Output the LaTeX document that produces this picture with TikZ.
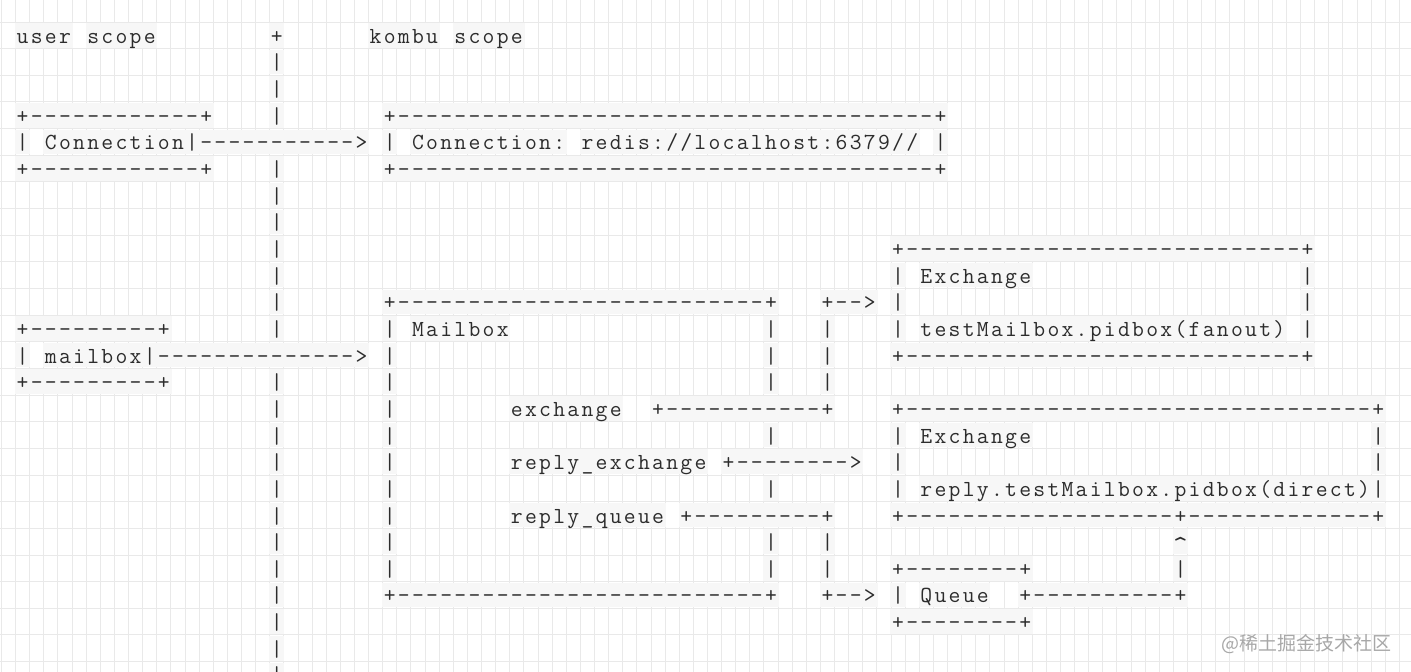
\documentclass[tikz,border=0pt]{standalone}
\usepackage{fontspec}
\newfontfamily\cjk{Noto Sans CJK SC}
\definecolor{gridc}{HTML}{E9E9E9}
\definecolor{cellbg}{HTML}{F7F7F7}
\definecolor{ink}{HTML}{2C2C2C}
\definecolor{wm}{HTML}{A8A8A8}
\newlength\cw \setlength\cw{14.12pt}
\ExplSyntaxOn
\cs_new:Npn \dsh #1 { \prg_replicate:nn {#1} {-} }
\ExplSyntaxOff
\newcommand\ascstop{}
\def\asc#1{\edef\asctmp{#1}\expandafter\ascloop\asctmp\ascstop}
\def\ascloop#1{\ifx#1\ascstop\let\ascnext\relax\else\ascchar#1\let\ascnext\ascloop\fi\ascnext}
\def\ascchar#1{\ifx#1@\kern\cw\else\rlap{\kern-0.6pt\textcolor{cellbg}{\rule[-4.3pt]{\dimexpr\cw+1.2pt\relax}{24.6pt}}}\hbox to\cw{\hss\ascglyph#1\hss}\fi}
\def\ascglyph#1{\ifx#1_\textunderscore\else\ifx#1^\raisebox{-5pt}{\scalebox{1.2}{\textasciicircum}}\else#1\fi\fi}
\tikzset{
  asc/.style={anchor=base west, inner sep=0pt, outer sep=0pt,
    font=\ttfamily\fontsize{23pt}{27pt}\selectfont, text=ink},
  gridline/.style={draw=gridc, line width=1pt}
}
\newcommand\seg[4]{\node[asc] (#1) at ({15.6+14.12*(#3)},{43.3+26.65*(#2)}) {\asc{#4}};}
\begin{document}
\begin{tikzpicture}[x=1pt,y=-1pt]
\useasboundingbox (0,0) rectangle (1411,672);
\fill[white] (0,0) rectangle (1411,672);
\foreach \k in {-1,...,98} \draw[gridline] ({15.6+14.12*\k},0) -- ({15.6+14.12*\k},672);
\foreach \k in {0,...,24} \draw[gridline] (0,{22+26.65*\k}) -- (1411,{22+26.65*\k});
% row 0
\seg{s0a}{0}{0}{user@scope}
\seg{s0b}{0}{18}{+}
\seg{s0c}{0}{25}{kombu@scope}
\seg{s1a}{1}{18}{|}
\seg{s2a}{2}{18}{|}
% connection
\seg{s3a}{3}{0}{+\dsh{12}+}
\seg{s3b}{3}{18}{|}
\seg{s3c}{3}{26}{+\dsh{38}+}
\seg{s4a}{4}{0}{|@Connection|\dsh{11}>@|@Connection:@redis://localhost:6379//@|}
\seg{s5a}{5}{0}{+\dsh{12}+}
\seg{s5b}{5}{18}{|}
\seg{s5c}{5}{26}{+\dsh{38}+}
\seg{s6a}{6}{18}{|}
\seg{s7a}{7}{18}{|}
% exchange fanout
\seg{s8a}{8}{18}{|}
\seg{s8b}{8}{62}{+\dsh{28}+}
\seg{s9a}{9}{18}{|}
\seg{s9b}{9}{62}{|@Exchange}
\seg{s9c}{9}{91}{|}
\seg{s10a}{10}{18}{|}
\seg{s10b}{10}{26}{+\dsh{26}+}
\seg{s10c}{10}{57}{+-->}
\seg{s10d}{10}{62}{|}
\seg{s10e}{10}{91}{|}
\seg{s11a}{11}{0}{+\dsh{9}+}
\seg{s11b}{11}{18}{|}
\seg{s11c}{11}{26}{|@Mailbox}
\seg{s11d}{11}{53}{|}
\seg{s11e}{11}{57}{|}
\seg{s11f}{11}{62}{|@testMailbox.pidbox(fanout)@|}
\seg{s12a}{12}{0}{|@mailbox|\dsh{14}>}
\seg{s12b}{12}{26}{|}
\seg{s12c}{12}{53}{|}
\seg{s12d}{12}{57}{|}
\seg{s12e}{12}{62}{+\dsh{28}+}
\seg{s13a}{13}{0}{+\dsh{9}+}
\seg{s13b}{13}{18}{|}
\seg{s13c}{13}{26}{|}
\seg{s13d}{13}{53}{|}
\seg{s13e}{13}{57}{|}
% exchange direct
\seg{s14a}{14}{18}{|}
\seg{s14b}{14}{26}{|}
\seg{s14c}{14}{35}{exchange@@+\dsh{11}+}
\seg{s14d}{14}{62}{+\dsh{33}+}
\seg{s15a}{15}{18}{|}
\seg{s15b}{15}{26}{|}
\seg{s15c}{15}{53}{|}
\seg{s15d}{15}{62}{|@Exchange}
\seg{s15e}{15}{96}{|}
\seg{s16a}{16}{18}{|}
\seg{s16b}{16}{26}{|}
\seg{s16c}{16}{35}{reply_exchange@+\dsh{8}>}
\seg{s16d}{16}{62}{|}
\seg{s16e}{16}{96}{|}
\seg{s17a}{17}{18}{|}
\seg{s17b}{17}{26}{|}
\seg{s17c}{17}{53}{|}
\seg{s17d}{17}{62}{|@reply.testMailbox.pidbox(direct)|}
\seg{s18a}{18}{18}{|}
\seg{s18b}{18}{26}{|}
\seg{s18c}{18}{35}{reply_queue@+\dsh{9}+}
\seg{s18d}{18}{62}{+\dsh{19}+\dsh{13}+}
% queue
\seg{s19a}{19}{18}{|}
\seg{s19b}{19}{26}{|}
\seg{s19c}{19}{53}{|}
\seg{s19d}{19}{57}{|}
\seg{s19e}{19}{82}{^}
\seg{s20a}{20}{18}{|}
\seg{s20b}{20}{26}{|}
\seg{s20c}{20}{53}{|}
\seg{s20d}{20}{57}{|}
\seg{s20e}{20}{62}{+\dsh{8}+}
\seg{s20f}{20}{82}{|}
\seg{s21a}{21}{18}{|}
\seg{s21b}{21}{26}{+\dsh{26}+}
\seg{s21c}{21}{57}{+-->}
\seg{s21d}{21}{62}{|@Queue@@+\dsh{10}+}
\seg{s22a}{22}{18}{|}
\seg{s22b}{22}{62}{+\dsh{8}+}
\seg{s23a}{23}{18}{|}
\seg{s24a}{24}{18}{|}
% watermark
\node[font=\cjk\fontsize{19pt}{22pt}\selectfont, text=wm, anchor=base east, inner sep=0pt] (wmark) at (1392,650) {@稀土掘金技术社区};
\end{tikzpicture}
\end{document}
